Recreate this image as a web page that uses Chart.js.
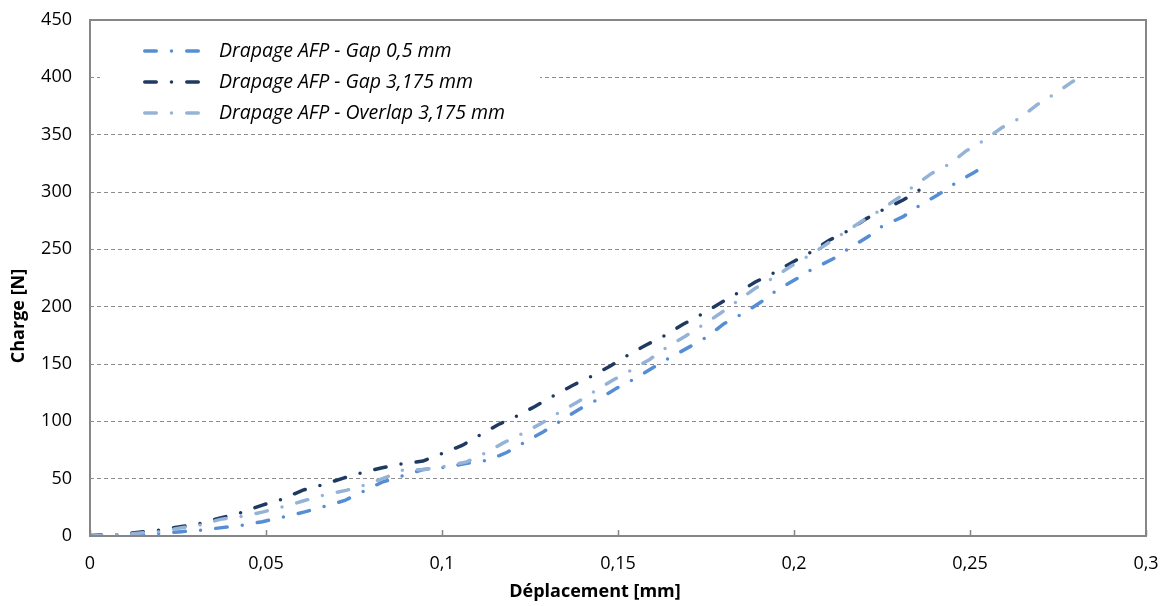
<!DOCTYPE html>
<html>
<head>
<meta charset="utf-8">
<script src="https://cdn.jsdelivr.net/npm/chart.js@4/dist/chart.umd.min.js"></script>
<style>
  html, body { margin: 0; padding: 0; background: #fff; }
  #wrap { width: 1164px; height: 606px; }
</style>
</head>
<body>
<div id="wrap"><canvas id="courbe" width="1164" height="606"></canvas></div>
<script>
// Données (déplacement en mm, charge en N)
const labels = ["Drapage AFP - Gap 0,5 mm", "Drapage AFP - Gap 3,175 mm", "Drapage AFP - Overlap 3,175 mm"];
const colors = ["#558ED5", "#1F3A60", "#95B3D7"];

const xGap05 = [0, 0.0077, 0.0137, 0.02, 0.026, 0.0318, 0.0375, 0.0436, 0.049, 0.0554, 0.061, 0.0668, 0.0724, 0.078, 0.083, 0.0895, 0.0946, 0.1014, 0.1074, 0.113, 0.1185, 0.1236, 0.1287, 0.134, 0.139, 0.1446, 0.1497, 0.155, 0.16, 0.165, 0.1707, 0.1753, 0.18, 0.1855, 0.1906, 0.195, 0.2, 0.2054, 0.211, 0.2157, 0.221, 0.225, 0.231, 0.236, 0.2409, 0.246, 0.2514, 0.2528];
const yGap05 = [0, 0, 1, 2.3, 3.8, 5.2, 7.3, 9.6, 12.5, 16.9, 21, 26, 31, 39.5, 47, 53, 58, 60, 63.6, 66, 73, 82, 90.7, 101, 110.6, 119.6, 129, 137.6, 147, 156, 165.6, 173.6, 185, 194, 204, 214, 223, 233, 241.5, 251, 261, 270, 278.5, 289, 297.5, 308, 317.5, 320];

const xGap3175 = [0, 0.0077, 0.0133, 0.0193, 0.0256, 0.0313, 0.037, 0.0426, 0.049, 0.0545, 0.0605, 0.0659, 0.072, 0.077, 0.083, 0.0886, 0.0946, 0.1, 0.1057, 0.1108, 0.1159, 0.1213, 0.1264, 0.1315, 0.1372, 0.1426, 0.1477, 0.153, 0.158, 0.1634, 0.1685, 0.1739, 0.179, 0.184, 0.189, 0.1946, 0.1997, 0.2051, 0.21, 0.2153, 0.2207, 0.2253, 0.231, 0.2358, 0.238];
const yGap3175 = [0.5, 1.2, 3, 5, 8, 11, 15.7, 20, 27, 32, 40, 44.5, 50.5, 55, 59.5, 63, 65.4, 72, 79, 88, 97, 104.7, 113, 122, 131.5, 139.5, 148, 158, 166.6, 175, 184.6, 193.6, 203, 212, 221.5, 230, 239, 248, 258, 266, 277, 284.5, 293, 302, 305];

const xOverlap = [0, 0.0077, 0.0137, 0.02, 0.0256, 0.0313, 0.037, 0.0436, 0.0492, 0.055, 0.0605, 0.0662, 0.073, 0.078, 0.0844, 0.089, 0.0952, 0.1014, 0.107, 0.1128, 0.1173, 0.123, 0.1284, 0.1334, 0.1386, 0.1438, 0.1486, 0.154, 0.159, 0.164, 0.169, 0.1744, 0.179, 0.184, 0.189, 0.194, 0.199, 0.204, 0.209, 0.214, 0.219, 0.2244, 0.2295, 0.234, 0.239, 0.244, 0.249, 0.254, 0.259, 0.2645, 0.269, 0.274, 0.279, 0.2805];
const yOverlap = [0, 1, 2.5, 3.9, 7, 9.6, 14.5, 17.4, 21, 25.6, 30.5, 35.5, 40, 44.5, 51.6, 57.6, 58, 61, 64.6, 73, 81, 89.6, 98.5, 108, 117, 127, 136, 145, 154, 165, 174, 184.6, 194, 205, 216, 225, 235, 244, 254, 264, 274, 284, 294.5, 305, 316, 324, 336, 345, 356, 365, 376, 385.5, 396, 399];

const xTicks = [0, 0.05, 0.1, 0.15, 0.2, 0.25, 0.3];
const yTicks = [0, 50, 100, 150, 200, 250, 300, 350, 400, 450];
const xTitre = "Déplacement [mm]";
const yTitre = "Charge [N]";

const dashDot = [11.5, 15.25, 0, 15.25];
const police = "'Open Sans', 'Liberation Sans', sans-serif";

function points(xs, ys) {
    return xs.map((x, i) => ({ x: x, y: ys[i] }));
}

function virgule(v) {
    return String(Math.round(v * 1000) / 1000).replace(".", ",");
}

const series = [points(xGap05, yGap05), points(xGap3175, yGap3175), points(xOverlap, yOverlap)];

const datasets = series.map((pts, i) => ({
    label: labels[i],
    data: pts,
    showLine: true,
    borderColor: colors[i],
    backgroundColor: colors[i],
    borderWidth: 3.5,
    borderDash: dashDot,
    borderCapStyle: "round",
    pointRadius: 0,
    tension: 0,
    order: 2 - i
}));

// cadre gris + petites graduations vers l'intérieur sur l'axe X + titres d'axes
const cadre = {
    id: "cadre",
    afterDatasetsDraw(chart) {
        const { ctx, chartArea: a, scales } = chart;
        ctx.save();
        ctx.strokeStyle = "#868686";
        ctx.lineWidth = 1.5;
        xTicks.forEach(t => {
            const px = Math.round(scales.x.getPixelForValue(t)) + 0.5;
            ctx.beginPath();
            ctx.moveTo(px, a.bottom);
            ctx.lineTo(px, a.bottom - 6);
            ctx.stroke();
        });
        ctx.lineWidth = 2;
        ctx.strokeRect(a.left, a.top, a.right - a.left, a.bottom - a.top);

        ctx.fillStyle = "#000";
        ctx.font = "bold 18px " + police;
        ctx.textAlign = "center";
        ctx.textBaseline = "middle";
        ctx.fillText(xTitre, 595, 592);
        ctx.translate(19, 316);
        ctx.rotate(-Math.PI / 2);
        ctx.fillText(yTitre, 0, 0);
        ctx.restore();
    }
};

// légende dessinée à la main (traits mixtes)
const legende = {
    id: "legende",
    afterDraw(chart) {
        const ctx = chart.ctx;
        ctx.save();
        ctx.fillStyle = "#fff";
        ctx.fillRect(100, 33, 440, 95);
        ctx.font = "italic 19.5px " + police;
        ctx.textBaseline = "middle";
        labels.forEach((lab, i) => {
            const y = 51 + i * 31;
            ctx.strokeStyle = colors[i];
            ctx.lineWidth = 3.5;
            ctx.lineCap = "round";
            ctx.setLineDash(dashDot);
            ctx.beginPath();
            ctx.moveTo(144.75, y);
            ctx.lineTo(198.5, y);
            ctx.stroke();
            ctx.setLineDash([]);
            ctx.fillStyle = "#000";
            ctx.fillText(lab, 219, y);
        });
        ctx.restore();
    }
};

const ctx = document.getElementById("courbe").getContext("2d");
const graphe = new Chart(ctx, {
    type: "scatter",
    data: { datasets: datasets },
    options: {
        responsive: false,
        animation: false,
        layout: { padding: { top: 20, right: 18, left: 0, bottom: 0 } },
        plugins: {
            legend: { display: false },
            tooltip: { enabled: false }
        },
        scales: {
            x: {
                type: "linear",
                min: 0,
                max: 0.3,
                afterBuildTicks: s => { s.ticks = xTicks.map(v => ({ value: v })); },
                afterFit: s => {
                    s.height = 70;
                    s.paddingLeft = 0;
                    s.paddingRight = 0;
                },
                grid: { display: false, drawTicks: false },
                border: { display: false },
                ticks: {
                    color: "#000",
                    padding: 17,
                    maxRotation: 0,
                    font: { family: police, size: 18 },
                    callback: v => virgule(v)
                },
                title: { display: false }
            },
            y: {
                min: 0,
                max: 450,
                afterBuildTicks: s => { s.ticks = yTicks.map(v => ({ value: v })); },
                afterFit: s => {
                    s.width = 90;
                    s.paddingTop = 0;
                    s.paddingBottom = 0;
                },
                grid: { color: "#8c8c8c", lineWidth: 1, drawTicks: false },
                border: { display: false, dash: [4, 3] },
                ticks: {
                    color: "#000",
                    padding: 18,
                    font: { family: police, size: 18 },
                    callback: v => String(v)
                },
                title: { display: false }
            }
        }
    },
    plugins: [cadre, legende]
});
</script>
</body>
</html>
